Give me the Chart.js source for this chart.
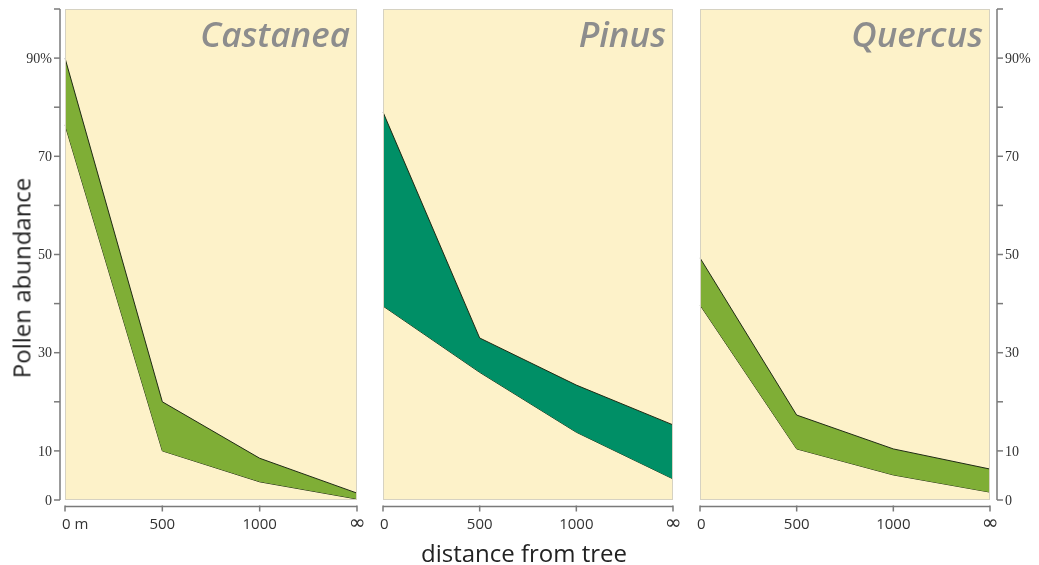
<!DOCTYPE html>
<html>
<head>
<meta charset="utf-8">
<script src="https://cdn.jsdelivr.net/npm/chart.js@4.4.1/dist/chart.umd.min.js"></script>
<style>
  body { margin: 0; background: #fff; }
  #wrap { position: relative; width: 1039px; height: 565px; overflow: hidden; }
  #wrap canvas { position: absolute; left: 0; top: 0; }
  .axis-title { position: absolute; font-family: "Open Sans", sans-serif; font-size: 24px; color: #222; white-space: nowrap; }
  #ytitle { left: 21px; top: 278px; transform: translate(-50%, -50%) rotate(-90deg); }
  #xtitle { left: 524px; top: 552px; transform: translate(-50%, -50%); }
</style>
</head>
<body>
<div id="wrap">
  <canvas id="c1" width="1039" height="565"></canvas>
  <canvas id="c2" width="1039" height="565"></canvas>
  <canvas id="c3" width="1039" height="565"></canvas>
  <div class="axis-title" id="ytitle">Pollen abundance</div>
  <div class="axis-title" id="xtitle">distance from tree</div>
</div>
<script>
// distance categories
const distFirst = ['0 m', '500', '1000', '∞'];
const dist = ['0', '500', '1000', '∞'];

// pollen abundance (%), upper and lower edge of each band
const castaneaUpper = [90, 20, 8.5, 1.4];
const castaneaLower = [76.4, 10, 3.7, 0.2];
const pinusUpper = [79, 33, 23.4, 15.3];
const pinusLower = [39.5, 26, 13.8, 4.3];
const quercusUpper = [49.3, 17.3, 10.4, 6.3];
const quercusLower = [39.7, 10.4, 5.1, 1.6];

// y axis ticks
const yTicks = [0, 10, 20, 30, 40, 50, 60, 70, 80, 90, 100];
const yTickLabels = ['0', '10', '', '30', '', '50', '', '70', '', '90%', ''];

const panelPlugin = {
    id: 'panel',
    beforeDatasetsDraw(chart, args, opts) {
        const a = chart.chartArea;
        const ctx = chart.ctx;
        ctx.save();
        ctx.fillStyle = '#fdf2c9';
        ctx.fillRect(a.left, a.top, a.right - a.left, a.bottom - a.top);
        ctx.restore();
    },
    afterDraw(chart, args, opts) {
        const a = chart.chartArea;
        const ctx = chart.ctx;
        const xs = chart.scales.x;
        const ys = chart.scales.y;
        ctx.save();

        // panel border
        ctx.strokeStyle = '#d6d2c2';
        ctx.lineWidth = 1;
        ctx.strokeRect(a.left + 0.5, a.top + 0.5, a.right - a.left - 1, a.bottom - a.top - 1);

        // title
        ctx.fillStyle = '#8d8d8d';
        ctx.font = 'italic 600 35px "Open Sans"';
        ctx.textAlign = 'right';
        ctx.textBaseline = 'alphabetic';
        ctx.fillText(opts.title, a.right - 7, 47);

        // x axis
        const labels = chart.data.labels;
        const x0 = xs.getPixelForValue(0);
        const x1 = xs.getPixelForValue(labels.length - 1);
        const ay = a.bottom + 6.5;
        ctx.strokeStyle = '#7a7a7a';
        ctx.lineWidth = 1.5;
        ctx.beginPath();
        ctx.moveTo(x0, ay);
        ctx.lineTo(x1, ay);
        ctx.stroke();
        ctx.fillStyle = '#333';
        ctx.font = '15px "Open Sans"';
        ctx.textBaseline = 'alphabetic';
        labels.forEach((lab, i) => {
            const px = xs.getPixelForValue(i);
            ctx.beginPath();
            ctx.moveTo(px, ay - 1);
            ctx.lineTo(px, ay + 5);
            ctx.stroke();
            if (i === 0) {
                ctx.textAlign = 'left';
                ctx.fillText(lab, px - 3, 529);
            } else if (lab === '∞') {
                ctx.textAlign = 'center';
                ctx.font = '20px "DejaVu Sans"';
                ctx.fillText(lab, px, 529);
                ctx.font = '15px "Open Sans"';
            } else {
                ctx.textAlign = 'center';
                ctx.fillText(lab, px, 529);
            }
        });

        // y axis
        if (opts.yAxis) {
            const left = opts.yAxis === 'left';
            const axX = left ? a.left - 5 : a.right + 7;
            ctx.strokeStyle = '#7a7a7a';
            ctx.lineWidth = 1.5;
            ctx.beginPath();
            ctx.moveTo(axX, ys.getPixelForValue(100));
            ctx.lineTo(axX, ys.getPixelForValue(0));
            ctx.stroke();
            ctx.fillStyle = '#333';
            ctx.font = '14px "Liberation Serif"';
            ctx.textBaseline = 'middle';
            ctx.textAlign = left ? 'right' : 'left';
            yTicks.forEach((v, i) => {
                const py = ys.getPixelForValue(v);
                ctx.beginPath();
                ctx.moveTo(axX, py);
                ctx.lineTo(left ? axX - 6 : axX + 6, py);
                ctx.stroke();
                if (yTickLabels[i]) {
                    ctx.fillText(yTickLabels[i], left ? axX - 8 : axX + 8, py + 1);
                }
            });
        }
        ctx.restore();
    }
};

function makePanel(id, labels, upper, lower, color, title, yAxis, left, right) {
    const ctx = document.getElementById(id).getContext('2d');
    new Chart(ctx, {
        type: 'line',
        data: {
            labels: labels,
            datasets: [{
                data: upper,
                fill: '+1',
                backgroundColor: color,
                borderColor: '#1f2a14',
                borderWidth: 1,
                pointRadius: 0,
                tension: 0
            }, {
                data: lower,
                fill: false,
                borderColor: '#1f2a14',
                borderWidth: 1,
                pointRadius: 0,
                tension: 0
            }]
        },
        options: {
            responsive: false,
            animation: false,
            events: [],
            layout: {
                padding: { left: left, right: 1039 - right, top: 9, bottom: 65 }
            },
            scales: {
                x: { type: 'category', offset: false, display: false },
                y: { min: 0, max: 100, display: false }
            },
            plugins: {
                legend: { display: false },
                tooltip: { enabled: false },
                panel: { title: title, yAxis: yAxis }
            }
        },
        plugins: [panelPlugin]
    });
}

makePanel('c1', distFirst, castaneaUpper, castaneaLower, '#7fae36', 'Castanea', 'left', 65, 357);
makePanel('c2', dist, pinusUpper, pinusLower, '#008f66', 'Pinus', null, 383, 673);
makePanel('c3', dist, quercusUpper, quercusLower, '#7fae36', 'Quercus', 'right', 700, 990);
</script>
</body>
</html>
